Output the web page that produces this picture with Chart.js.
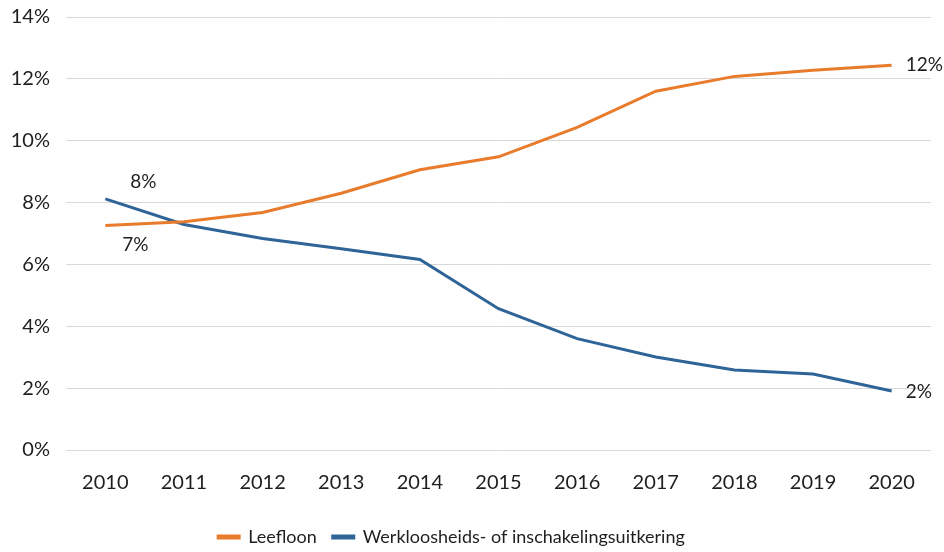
<!DOCTYPE html>
<html>
<head>
<meta charset="utf-8">
<script src="https://cdn.jsdelivr.net/npm/chart.js@4/dist/chart.umd.min.js"></script>
<style>
  html, body { margin: 0; padding: 0; background: #fff; }
  #wrap { width: 944px; height: 552px; position: relative; }
</style>
</head>
<body>
<div id="wrap"><canvas id="myChart"></canvas></div>
<script>
const years = ['2010', '2011', '2012', '2013', '2014', '2015', '2016', '2017', '2018', '2019', '2020']
const leefloon = [7.26, 7.38, 7.68, 8.3, 9.06, 9.48, 10.43, 11.6, 12.08, 12.28, 12.44]
const werkloosheid = [8.12, 7.29, 6.84, 6.51, 6.16, 4.57, 3.6, 3.01, 2.59, 2.46, 1.91]
const yTicks = [0, 2, 4, 6, 8, 10, 12, 14]

const orange = '#E87B2C'
const blue = '#2F6498'
const textColor = '#1e1e1e'
const fontFamily = 'Lato, "Noto Sans", sans-serif'

// labels at the first and last point, placed relative to the point
const pointLabels = [
  { ds: 1, idx: 0, dx: 38, dy: -17, align: 'center' },
  { ds: 0, idx: 0, dx: 30, dy: 19, align: 'center' },
  { ds: 0, idx: 10, dx: 14, dy: 0, align: 'left' },
  { ds: 1, idx: 10, dx: 14, dy: 1, align: 'left' }
]

const labelPlugin = {
  id: 'pointLabels',
  afterDatasetsDraw(chart) {
    const ctx = chart.ctx
    ctx.save()
    ctx.font = '19px ' + fontFamily
    ctx.fillStyle = textColor
    ctx.textBaseline = 'middle'
    for (const l of pointLabels) {
      const pt = chart.getDatasetMeta(l.ds).data[l.idx]
      const val = chart.data.datasets[l.ds].data[l.idx]
      ctx.textAlign = l.align
      ctx.fillText(Math.round(val) + '%', pt.x + l.dx, pt.y + l.dy)
    }
    ctx.restore()
  }
}

// keep the legend box short so it sits low under the axis,
// and nudge it a bit to the left like in the original
const legendPlace = {
  id: 'legendPlace',
  beforeInit(chart) {
    const fit = chart.legend.fit
    chart.legend.fit = function () {
      fit.bind(chart.legend)()
      this.height = 40
    }
  },
  afterLayout(chart) {
    chart.legend.right -= 28
  }
}

const ctx = document.getElementById('myChart')
new Chart(ctx, {
  type: 'line',
  data: {
    labels: years,
    datasets: [
      {
        label: 'Leefloon',
        data: leefloon,
        borderColor: orange,
        backgroundColor: orange,
        borderWidth: 3,
        pointRadius: 0,
        tension: 0
      },
      {
        label: 'Werkloosheids- of inschakelingsuitkering',
        data: werkloosheid,
        borderColor: blue,
        backgroundColor: blue,
        borderWidth: 3,
        pointRadius: 0,
        tension: 0
      }
    ]
  },
  options: {
    responsive: true,
    maintainAspectRatio: false,
    animation: false,
    layout: {
      padding: { left: 0, right: 13, top: 0, bottom: 0 }
    },
    plugins: {
      legend: {
        position: 'bottom',
        labels: {
          color: textColor,
          font: { family: fontFamily, size: 18 },
          boxWidth: 21,
          boxHeight: 2,
          padding: 16
        }
      },
      tooltip: { enabled: false }
    },
    scales: {
      x: {
        offset: true,
        grid: { display: false, drawTicks: false },
        border: { display: false },
        afterFit: (axis) => {
          axis.height = 62
        },
        ticks: {
          color: textColor,
          font: { family: fontFamily, size: 20 },
          padding: 21,
          maxRotation: 0
        }
      },
      y: {
        min: 0,
        max: 14,
        afterBuildTicks: (axis) => {
          axis.ticks = yTicks.map(v => ({ value: v }))
        },
        afterFit: (axis) => {
          axis.width = 66
        },
        grid: { color: '#d9d9d9', lineWidth: 1, drawTicks: false },
        border: { display: false },
        ticks: {
          color: textColor,
          font: { family: fontFamily, size: 20, lineHeight: 0.1 },
          padding: 16,
          callback: (v) => v + '%'
        }
      }
    }
  },
  plugins: [labelPlugin, legendPlace]
})
</script>
</body>
</html>
